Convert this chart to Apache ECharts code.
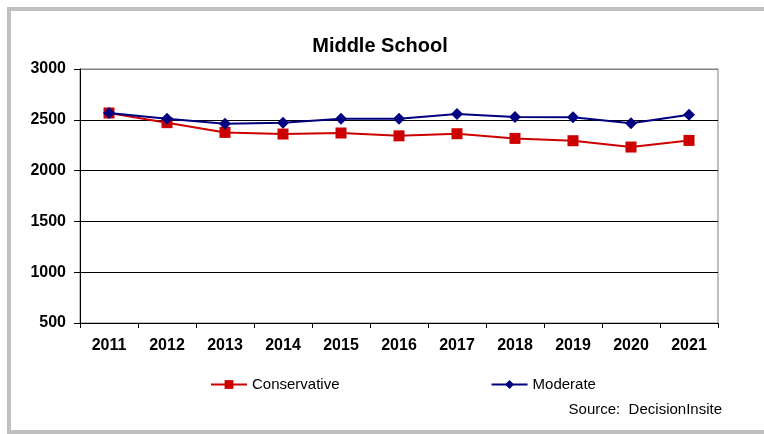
<!DOCTYPE html>
<html>
<head>
<meta charset="utf-8">
<script src="https://cdn.jsdelivr.net/npm/echarts@6/dist/echarts.min.js"></script>
<style>
html,body{margin:0;padding:0;background:#fff;}
#chart{width:764px;height:434px;}
</style>
</head>
<body>
<div id="chart"></div>
<script>
const years = ['2011','2012','2013','2014','2015','2016','2017','2018','2019','2020','2021'];
const conservative = [2567, 2472, 2376, 2360, 2370, 2342, 2363, 2317, 2294, 2232, 2297];
const moderate = [2567, 2511, 2462, 2472, 2511, 2510, 2557, 2528, 2524, 2465, 2550];
const yTicks = [500, 1000, 1500, 2000, 2500, 3000];

const font = 'Liberation Sans, Arial, sans-serif';
const chart = echarts.init(document.getElementById('chart'), null, {renderer: 'canvas'});
chart.setOption({
  animation: false,
  backgroundColor: '#ffffff',
  title: {
    text: 'Middle School',
    left: 375, top: 31, textAlign: 'center',
    textStyle: {fontFamily: font, fontSize: 20, fontWeight: 'bold', color: '#000'}
  },
  grid: {
    left: 80, right: 46, top: 69, bottom: 111,
    show: true, borderColor: '#808080', borderWidth: 1, backgroundColor: 'transparent'
  },
  legend: {
    left: 210, top: 377, padding: 0, itemGap: 151, itemWidth: 36, itemHeight: 11,
    textStyle: {fontFamily: font, fontSize: 15, color: '#000'},
    data: ['Conservative', 'Moderate']
  },
  xAxis: {
    type: 'category', data: years, boundaryGap: true,
    axisLine: {lineStyle: {color: '#000', width: 1}},
    axisTick: {show: true, length: 5, lineStyle: {color: '#000'}},
    axisLabel: {fontFamily: font, fontSize: 16, fontWeight: 'bold', color: '#000', margin: 15}
  },
  yAxis: {
    type: 'value', min: yTicks[0], max: yTicks[yTicks.length - 1], interval: 500,
    axisLine: {show: true, lineStyle: {color: '#000', width: 1}},
    axisTick: {show: true, length: 6, lineStyle: {color: '#000'}},
    axisLabel: {fontFamily: font, fontSize: 16, fontWeight: 'bold', color: '#000', margin: 14,
      formatter: function (v) { return String(v); }},
    splitLine: {show: true, lineStyle: {color: ['#000', '#000', '#000', '#000', '#000', '#808080'], width: 1}}
  },
  series: [
    {
      name: 'Conservative', type: 'line', data: conservative,
      symbol: 'rect', symbolSize: 11,
      lineStyle: {color: '#cc0000', width: 2},
      itemStyle: {color: '#cc0000'}, z: 2
    },
    {
      name: 'Moderate', type: 'line', data: moderate,
      symbol: 'diamond', symbolSize: 12,
      lineStyle: {color: '#000080', width: 2},
      itemStyle: {color: '#000080'}, z: 3
    }
  ],
  graphic: [
    {
      type: 'rect', shape: {x: 9, y: 9, width: 800, height: 423},
      style: {fill: 'none', stroke: '#c0c0c0', lineWidth: 4}, silent: true
    },
    {
      type: 'text', right: 42, top: 402,
      style: {text: 'Source:  DecisionInsite', font: '15px ' + font, fill: '#000'}
    }
  ]
});
</script>
</body>
</html>
